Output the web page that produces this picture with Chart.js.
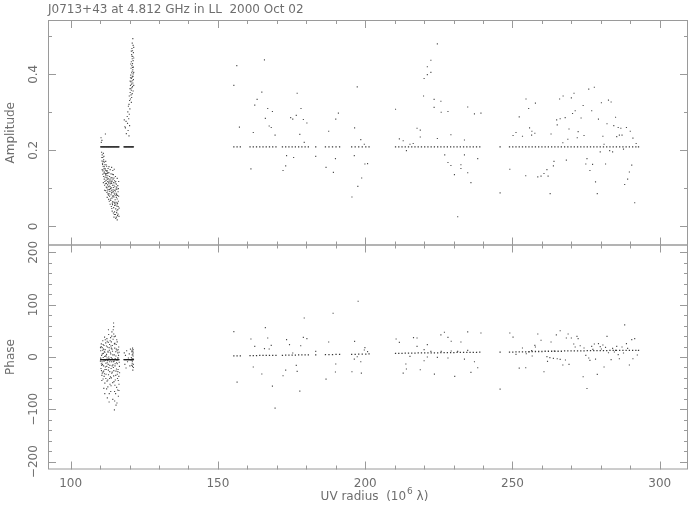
<!DOCTYPE html>
<html>
<head>
<meta charset="utf-8">
<script src="https://cdn.jsdelivr.net/npm/chart.js@4.4.1/dist/chart.umd.min.js"></script>
<style>
  html, body { margin: 0; padding: 0; background: #fff; }
  #wrap { position: relative; width: 693px; height: 511px; }
  #wrap canvas { position: absolute; left: 0; top: 0; }
</style>
</head>
<body>
<div id="wrap">
  <canvas id="ampChart" width="693" height="511"></canvas>
  <canvas id="phaseChart" width="693" height="511"></canvas>
</div>
<script>
// UV radius (10^6 lambda) axis
const xMin = 92.3, xMax = 309.6;
const xMajor = [100, 150, 200, 250, 300];
const xMinor = [110, 120, 130, 140, 160, 170, 180, 190, 210, 220, 230, 240, 260, 270, 280, 290];
const ampMajor = [0, 0.2, 0.4];
const ampMinor = [0.1, 0.3, 0.5];
const ampLabels = ['0', '0.2', '0.4'];
const phaseMajor = [-200, -100, 0, 100, 200];
const phaseMinor = [-180, -160, -140, -120, -80, -60, -40, -20, 20, 40, 60, 80, 120, 140, 160, 180];
const phaseLabels = ['\u2212200', '\u2212100', '0', '100', '200'];

// amplitude, dense group 110-117
const ampCluster1 = [
  [110.3, 0.233], [110.4, 0.221], [110.6, 0.226], [111.8, 0.243],
  [110.5, 0.195], [110.7, 0.188], [110.9, 0.181], [111.1, 0.192], [110.6, 0.172], [110.8, 0.166],
  [111.2, 0.175], [111.4, 0.169], [111.0, 0.158], [111.3, 0.151], [111.6, 0.162], [111.9, 0.171],
  [112.2, 0.158], [111.5, 0.143], [111.8, 0.148], [112.1, 0.139], [112.4, 0.146], [112.7, 0.152],
  [113.0, 0.141], [113.4, 0.149], [113.9, 0.155], [114.3, 0.147], [114.8, 0.150], [110.7, 0.149],
  [110.9, 0.137], [111.2, 0.131], [111.4, 0.124], [111.7, 0.129], [112.0, 0.121], [112.3, 0.128],
  [112.6, 0.133], [112.9, 0.125], [113.2, 0.131], [113.6, 0.122], [114.0, 0.128], [114.5, 0.136],
  [115.2, 0.131], [115.8, 0.126], [111.1, 0.115], [111.5, 0.108], [111.8, 0.112], [112.1, 0.103],
  [112.5, 0.109], [112.8, 0.116], [113.1, 0.106], [113.5, 0.112], [113.8, 0.101], [114.2, 0.108],
  [114.6, 0.115], [115.0, 0.104], [115.5, 0.111], [116.0, 0.107], [116.3, 0.118], [111.9, 0.094],
  [112.3, 0.089], [112.7, 0.097], [113.0, 0.086], [113.3, 0.092], [113.7, 0.083], [114.1, 0.090],
  [114.4, 0.096], [114.8, 0.087], [115.2, 0.093], [115.6, 0.084], [116.1, 0.091], [112.4, 0.076],
  [112.9, 0.071], [113.2, 0.079], [113.6, 0.068], [114.0, 0.074], [114.3, 0.065], [114.7, 0.077],
  [115.1, 0.070], [115.4, 0.063], [115.8, 0.072], [116.2, 0.066], [113.4, 0.058], [113.8, 0.052],
  [114.2, 0.057], [114.6, 0.049], [114.9, 0.055], [115.3, 0.046], [115.7, 0.053], [116.0, 0.044],
  [114.1, 0.040], [114.5, 0.035], [114.9, 0.038], [115.2, 0.031], [115.6, 0.036], [115.9, 0.028],
  [114.7, 0.024], [115.3, 0.021], [115.8, 0.017], [116.4, 0.026], [111.3, 0.140], [112.0, 0.133],
  [112.6, 0.118], [113.3, 0.117], [113.9, 0.113], [114.5, 0.102], [112.2, 0.146], [113.7, 0.138],
  [114.9, 0.120], [115.4, 0.098], [115.9, 0.081], [113.5, 0.099], [112.8, 0.104], [114.4, 0.081],
  [115.0, 0.060], [115.5, 0.076], [111.6, 0.118], [112.5, 0.140], [113.1, 0.122], [114.7, 0.127],
  [115.3, 0.118], [113.9, 0.095], [112.6, 0.085], [115.7, 0.098], [114.2, 0.137], [113.0, 0.157],
  [110.83, 0.163], [111.37, 0.157], [111.92, 0.136], [112.46, 0.124], [112.97, 0.112], [113.41, 0.104],
  [113.86, 0.088], [114.33, 0.078], [114.78, 0.063], [115.24, 0.056], [115.69, 0.041], [116.13, 0.052],
  [110.58, 0.181], [111.03, 0.171], [111.68, 0.152], [112.14, 0.113], [112.71, 0.141], [113.18, 0.097],
  [113.62, 0.127], [114.07, 0.119], [114.52, 0.091], [114.96, 0.083], [115.43, 0.087], [115.91, 0.061],
  [116.28, 0.079], [111.27, 0.184], [111.74, 0.139], [112.33, 0.101], [112.88, 0.082], [113.53, 0.072],
  [114.14, 0.061], [114.69, 0.108], [115.12, 0.114], [115.61, 0.103], [116.07, 0.032], [112.03, 0.162],
  [112.58, 0.093], [113.12, 0.066], [113.77, 0.117], [114.38, 0.124], [114.91, 0.095], [115.37, 0.081],
  [115.79, 0.059], [116.21, 0.099], [110.96, 0.146], [111.49, 0.095], [113.96, 0.047], [114.84, 0.031],
  [115.51, 0.024], [116.44, 0.048]
];

// amplitude, dense group 118-122
const ampCluster2 = [
  [121.1, 0.494], [120.9, 0.482], [121.2, 0.476], [120.8, 0.468], [121.0, 0.462], [121.3, 0.457],
  [120.7, 0.452], [121.1, 0.447], [120.9, 0.441], [121.2, 0.436], [120.6, 0.433], [121.0, 0.428],
  [120.8, 0.423], [121.3, 0.419], [120.5, 0.416], [121.1, 0.412], [120.9, 0.408], [120.7, 0.404],
  [121.2, 0.401], [120.4, 0.398], [121.0, 0.395], [120.8, 0.392], [120.6, 0.389], [121.3, 0.386],
  [120.9, 0.383], [120.5, 0.380], [121.1, 0.377], [120.7, 0.374], [120.3, 0.371], [121.0, 0.368],
  [120.8, 0.365], [120.4, 0.362], [120.6, 0.358], [121.2, 0.356], [120.2, 0.352], [120.9, 0.349],
  [120.5, 0.346], [119.9, 0.343], [120.7, 0.339], [120.3, 0.335], [120.0, 0.331], [120.6, 0.326],
  [119.8, 0.321], [121.4, 0.471], [120.6, 0.461], [121.4, 0.443], [120.4, 0.427], [121.4, 0.405],
  [120.3, 0.391], [121.4, 0.371], [120.2, 0.382], [120.1, 0.362], [119.6, 0.316], [120.1, 0.309],
  [119.4, 0.301], [119.9, 0.295], [119.2, 0.289], [119.7, 0.283], [118.8, 0.276], [119.3, 0.271],
  [120.0, 0.265], [118.6, 0.259], [119.5, 0.252], [118.9, 0.244], [119.8, 0.238], [118.4, 0.262],
  [118.2, 0.280], [121.0, 0.418], [120.8, 0.448], [121.2, 0.395]
];

// amplitude, sparse points 155-293
const ampOuter = [
  [156.4, 0.423], [155.4, 0.371], [157.3, 0.261], [161.2, 0.151], [162.0, 0.247], [162.5, 0.319],
  [163.3, 0.334], [164.9, 0.353], [165.8, 0.438], [166.1, 0.284], [166.9, 0.310], [168.5, 0.302],
  [167.4, 0.264], [168.1, 0.260], [169.4, 0.240], [172.1, 0.147], [173.0, 0.159], [173.3, 0.186],
  [175.7, 0.181], [174.7, 0.286], [175.4, 0.282], [176.6, 0.292], [176.9, 0.350], [178.2, 0.310],
  [177.8, 0.242], [179.0, 0.281], [179.3, 0.221], [180.2, 0.272], [183.2, 0.184], [186.7, 0.155],
  [187.6, 0.250], [189.2, 0.142], [189.9, 0.178], [190.0, 0.282], [190.9, 0.298], [196.3, 0.186],
  [196.4, 0.259], [197.3, 0.367], [198.5, 0.228], [199.7, 0.216], [199.9, 0.164], [200.8, 0.165],
  [198.8, 0.127], [197.5, 0.105], [195.5, 0.077], [210.3, 0.308], [211.6, 0.230], [212.9, 0.225],
  [214.0, 0.199], [215.2, 0.216], [216.3, 0.218], [217.6, 0.258], [218.7, 0.253], [218.7, 0.235],
  [219.8, 0.343], [220.0, 0.389], [221.1, 0.420], [221.1, 0.399], [222.3, 0.437], [222.3, 0.405],
  [224.5, 0.480], [223.4, 0.334], [223.4, 0.313], [225.7, 0.329], [225.8, 0.300], [228.1, 0.302],
  [224.5, 0.231], [227.0, 0.188], [228.1, 0.168], [229.1, 0.241], [229.1, 0.160], [230.3, 0.136],
  [231.4, 0.025], [232.5, 0.162], [232.5, 0.152], [233.7, 0.227], [233.7, 0.188], [234.8, 0.314],
  [234.8, 0.141], [235.9, 0.115], [237.1, 0.296], [238.2, 0.178], [239.3, 0.298], [245.8, 0.088],
  [249.1, 0.150], [250.2, 0.239], [251.2, 0.247], [252.3, 0.288], [253.4, 0.237], [254.5, 0.133],
  [254.6, 0.335], [255.5, 0.310], [255.8, 0.259], [256.6, 0.250], [256.5, 0.240], [257.6, 0.245],
  [257.8, 0.324], [258.6, 0.130], [259.7, 0.132], [260.7, 0.139], [261.7, 0.149], [262.1, 0.132],
  [262.8, 0.086], [263.1, 0.243], [263.9, 0.159], [264.1, 0.171], [265.0, 0.280], [265.2, 0.267],
  [266.2, 0.283], [266.0, 0.335], [267.1, 0.220], [267.2, 0.343], [267.9, 0.286], [268.3, 0.174],
  [268.8, 0.229], [269.2, 0.256], [270.0, 0.338], [270.4, 0.297], [270.9, 0.350], [271.3, 0.304],
  [272.0, 0.233], [272.3, 0.249], [273.3, 0.285], [274.0, 0.318], [274.3, 0.239], [274.9, 0.164],
  [275.3, 0.178], [275.9, 0.361], [276.3, 0.147], [276.9, 0.304], [277.2, 0.163], [277.8, 0.366],
  [278.2, 0.117], [278.8, 0.086], [279.2, 0.282], [279.8, 0.196], [280.2, 0.325], [280.7, 0.237],
  [281.1, 0.216], [281.6, 0.164], [282.1, 0.270], [282.6, 0.332], [283.0, 0.199], [283.5, 0.327],
  [284.0, 0.196], [284.4, 0.265], [285.0, 0.287], [285.4, 0.236], [285.9, 0.260], [286.3, 0.240],
  [286.8, 0.258], [287.2, 0.240], [287.7, 0.203], [288.1, 0.110], [288.7, 0.260], [289.1, 0.124],
  [289.7, 0.143], [290.0, 0.250], [290.5, 0.161], [290.9, 0.232], [291.5, 0.062], [292.0, 0.218]
];

// phase (degrees), dense group 110-117
const phaseCluster1 = [
  [110.1, -8], [110.2, 12], [110.3, -22], [110.4, 25], [110.5, 3], [110.6, -35], [110.7, 18],
  [110.8, -14], [110.9, 31], [111.0, -42], [111.1, 7], [111.2, -27], [111.3, 22], [111.4, -5],
  [111.5, 38], [111.6, -50], [111.7, 14], [111.8, -19], [111.9, 27], [112.0, -33], [112.1, 2],
  [112.2, -61], [112.3, 35], [112.4, -11], [112.5, 19], [112.6, -44], [112.7, 9], [112.8, -25],
  [112.9, 43], [113.0, -3], [113.1, -70], [113.2, 24], [113.3, -16], [113.4, 31], [113.5, -38],
  [113.6, 6], [113.7, -55], [113.8, 17], [113.9, -9], [114.0, 48], [114.1, -29], [114.2, 11],
  [114.3, -81], [114.4, 34], [114.5, -20], [114.6, 58], [114.7, -47], [114.8, 4], [114.9, -66],
  [115.0, 26], [115.1, -13], [115.2, 40], [115.3, -35], [115.4, -92], [115.5, 15], [115.6, -58],
  [115.7, -6], [115.8, 29], [115.9, -41], [116.0, 8], [116.1, -24], [116.2, -75], [116.3, 19],
  [116.4, -52], [116.5, -10], [116.6, -30], [110.15, -2], [110.35, 20], [110.55, -16], [110.75, 6],
  [110.95, -29], [111.15, 15], [111.35, -37], [111.55, 1], [111.75, 33], [111.95, -12], [112.15, 21],
  [112.35, -46], [112.55, -7], [112.75, 28], [112.95, -20], [113.15, 13], [113.35, -52], [113.55, 37],
  [113.75, -1], [113.95, -31], [114.15, 22], [114.35, -15], [114.55, 65], [114.75, -8], [114.95, 17],
  [115.15, -44], [115.35, 2], [115.55, -23], [115.75, 12], [115.95, -63], [116.15, -2], [116.35, -37],
  [114.45, 52], [114.85, -101], [113.05, -86], [112.45, -78], [111.25, -60], [115.25, -70],
  [110.25, -4], [110.65, -9], [111.05, -1], [111.45, 10], [111.85, -6], [112.25, -18], [112.65, 11],
  [113.25, -9], [113.65, 21], [114.05, -3], [114.65, -26], [115.05, -17], [115.45, 24], [115.85, -13],
  [116.25, 3], [116.55, -18], [113.85, -40], [112.85, -34], [111.65, -24], [110.45, -26],
  [110.13, 18], [110.42, -13], [110.71, -31], [111.02, 24], [111.33, -8], [111.62, 9], [111.94, -41],
  [112.18, 5], [112.41, 30], [112.73, -14], [113.04, 18], [113.27, -28], [113.52, -5], [113.81, 29],
  [114.08, -17], [114.32, 4], [114.59, -36], [114.86, 25], [115.11, -3], [115.38, -27], [115.63, 33],
  [115.92, -2], [116.17, -45], [116.46, 9], [110.58, -45], [110.87, 13], [111.18, -17], [111.47, -32],
  [111.79, 2], [112.07, -24], [112.36, -2], [112.62, -57], [112.91, 0], [113.22, -41], [113.47, 9],
  [113.73, -22], [114.02, 15], [114.27, -49], [114.51, -9], [114.78, 39], [115.02, -54], [115.29, 10],
  [115.58, -11], [115.83, -33], [116.09, 14], [116.38, -64], [111.58, -70], [112.83, 52], [113.6, -66],
  [114.93, -84], [115.71, -88], [114.62, 44], [113.93, 40], [116.02, -28]
];

// phase, dense group 118-122
const phaseCluster2 = [
  [118.2, 8], [118.4, -14], [118.6, 3], [118.8, -21], [119.0, 12], [119.3, -9], [119.6, -2],
  [119.9, 6], [120.1, -17], [120.3, 15], [120.5, -6], [120.7, 10], [120.9, -12], [121.0, 17],
  [121.1, -25], [121.2, 2], [121.3, -4], [120.8, 13], [121.0, -18], [120.6, -1], [121.2, 9], [120.9, 4],
  [120.95, -8], [121.15, 6], [121.25, -14], [120.85, -3], [121.05, 11], [121.3, -20], [120.75, -16], [121.18, 14]
];

// phase, sparse points 155-293
const phaseOuter = [
  [155.4, 48.5], [156.5, -47.9], [161.2, 34.4], [162.0, -19.1], [162.5, 20.4], [164.9, -32.5],
  [165.8, 15.9], [166.1, 56.1], [166.9, 36.3], [167.4, 15.3], [168.1, 22.3], [168.5, -55.6],
  [169.4, -97.8], [172.1, -35.8], [173.0, -25.0], [173.3, 33.2], [174.3, 23.6], [175.4, 7.6],
  [176.6, -16.0], [176.9, -27.5], [177.8, -65.2], [178.1, 21.6], [179.0, 37.6], [179.3, 74.6],
  [180.2, 35.0], [183.2, 10.8], [186.7, -42.2], [187.6, 28.6], [189.1, 83.6], [190.0, -13.4],
  [189.9, -28.7], [195.5, -28.1], [196.3, -4.0], [196.4, 29.9], [197.6, 106.6], [197.3, 0.5],
  [198.5, -9.1], [198.7, -30.8], [199.7, 13.3], [199.9, 17.8], [200.8, 10.2], [210.5, 34.4],
  [211.6, 28.0], [212.9, -30.8], [213.8, -13.4], [214.0, -23.0], [215.2, 1.2], [216.4, 37.0],
  [217.6, 36.3], [217.6, 20.4], [218.7, -24.3], [220.0, 14.0], [220.0, -7.1], [221.1, 23.6],
  [221.1, 0.0], [222.3, 10.8], [223.5, -32.7], [224.5, -0.6], [225.7, 42.3], [225.8, 10.8],
  [226.9, 47.4], [228.1, 37.6], [228.1, -1.9], [229.2, 30.0], [229.2, 11.5], [230.4, -37.1],
  [231.4, 10.8], [232.5, 28.6], [233.7, -4.0], [234.8, 47.9], [234.8, 12.7], [235.9, -29.4],
  [237.1, -9.1], [238.2, -20.5], [239.3, 45.9], [245.8, -61.4], [249.1, 45.9], [250.2, 38.0],
  [251.2, 4.9], [252.3, -21.2], [253.4, 17.2], [254.5, -20.5], [254.7, 6.3], [255.6, 10.2],
  [256.5, 12.1], [256.7, 1.9], [257.6, 22.3], [257.8, 19.0], [258.6, 44.0], [259.7, 31.9],
  [260.7, -28.1], [261.7, 0.6], [261.9, -8.4], [262.7, -1.3], [263.1, 28.6], [263.9, -2.6],
  [264.2, 11.5], [264.9, 42.2], [265.2, -3.3], [266.2, 50.1], [266.2, -4.5], [267.1, -15.4],
  [268.0, -5.8], [268.3, 36.3], [268.9, 44.0], [269.2, -14.1], [270.0, 36.3], [270.8, 24.8],
  [271.3, 19.0], [271.9, 39.5], [272.3, 35.0], [273.0, 21.6], [274.0, -37.7], [274.3, 17.2],
  [274.9, 3.2], [275.3, -60.2], [275.9, -1.9], [276.3, -6.4], [276.9, 20.4], [277.3, 14.6],
  [277.8, 24.8], [278.2, -4.0], [278.8, -33.3], [279.2, 25.5], [279.8, 19.8], [280.2, 15.3],
  [280.7, 23.0], [281.1, -19.2], [281.6, 18.3], [282.1, 39.5], [282.6, 8.2], [283.5, -5.1],
  [284.0, 16.6], [284.6, 9.5], [285.0, 12.7], [285.4, 20.4], [285.9, 4.5], [286.3, -3.3],
  [287.2, 19.0], [287.7, 7.6], [288.1, 61.3], [288.7, 25.5], [289.1, 16.6], [289.7, -15.4],
  [290.5, 33.2], [290.9, -3.3], [291.5, 35.0], [292.4, 3.9]
];

// model points: uv radius, amplitude, phase
const modelU = [
  110.2, 110.4, 110.6, 110.8, 111.0, 111.2, 111.4, 111.6, 111.8, 112.0, 112.2, 112.4, 112.6, 112.8, 113.0, 113.2,
  113.4, 113.6, 113.8, 114.0, 114.2, 114.4, 114.6, 114.8, 115.0, 115.2, 115.4, 115.6, 115.8, 116.0, 116.2, 116.4,
  118.1, 118.3, 118.5, 118.7, 118.9, 119.1, 119.3, 119.5, 119.7, 119.9, 120.1, 120.3, 120.5, 120.7, 120.9, 121.1, 121.3,
  155.4, 156.5, 157.6, 160.9, 162.0, 163.1, 164.2, 165.3, 166.4, 167.5, 168.6, 169.7,
  171.9, 173.0, 174.1, 175.2, 176.3, 177.4, 178.5, 179.6, 180.7, 183.2, 186.5, 187.7, 188.9, 190.1, 191.3,
  195.4, 196.6, 197.8, 199.0, 200.2, 201.3, 210.3, 211.4, 212.5, 213.6, 214.7, 215.8, 216.9, 218.0, 219.1, 220.2,
  221.3, 222.4, 223.5, 224.6, 225.7, 226.8, 227.9, 229.0, 230.1, 231.2, 232.3, 233.4, 234.5, 235.6, 236.7, 237.8, 238.9, 245.8,
  249.0, 250.1, 251.2, 252.3, 253.4, 254.5, 255.6, 256.7, 257.8, 258.9, 260.0, 261.1, 262.2, 263.3, 264.4, 265.5, 266.6, 267.7, 268.8, 269.9, 271.0,
  272.1, 273.2, 274.3, 275.4, 276.5, 277.6, 278.7, 279.8, 280.9, 282.0, 283.1, 284.2, 285.3, 286.4, 287.5, 288.6, 289.7, 290.8, 291.9, 292.8
];
const modelAmp = [
  0.209, 0.209, 0.209, 0.209, 0.209, 0.209, 0.209, 0.209, 0.209, 0.209, 0.209, 0.209, 0.209, 0.209, 0.209, 0.209,
  0.209, 0.209, 0.209, 0.209, 0.209, 0.209, 0.209, 0.209, 0.209, 0.209, 0.209, 0.209, 0.209, 0.209, 0.209, 0.209,
  0.209, 0.209, 0.209, 0.209, 0.209, 0.209, 0.209, 0.209, 0.209, 0.209, 0.209, 0.209, 0.209, 0.209, 0.209, 0.209, 0.209,
  0.209, 0.209, 0.209, 0.209, 0.209, 0.209, 0.209, 0.209, 0.209, 0.209, 0.209, 0.209,
  0.209, 0.209, 0.209, 0.209, 0.209, 0.209, 0.209, 0.209, 0.209, 0.209, 0.209, 0.209, 0.209, 0.209, 0.209,
  0.209, 0.209, 0.209, 0.209, 0.209, 0.209, 0.209, 0.209, 0.209, 0.209, 0.209, 0.209, 0.209, 0.209, 0.209, 0.209,
  0.209, 0.209, 0.209, 0.209, 0.209, 0.209, 0.209, 0.209, 0.209, 0.209, 0.209, 0.209, 0.209, 0.209, 0.209, 0.209, 0.209, 0.209,
  0.209, 0.209, 0.209, 0.209, 0.209, 0.209, 0.209, 0.209, 0.209, 0.209, 0.209, 0.209, 0.209, 0.209, 0.209, 0.209, 0.209, 0.209, 0.209, 0.209, 0.209,
  0.209, 0.209, 0.209, 0.209, 0.209, 0.209, 0.209, 0.209, 0.209, 0.209, 0.209, 0.209, 0.209, 0.209, 0.209, 0.209, 0.209, 0.209, 0.209, 0.209
];
const modelPhase = [
  -5, -5, -5, -5, -5, -5, -5, -5, -5, -5, -5, -5, -5, -5, -5, -5,
  -5, -5, -5, -5, -5, -5, -5, -5, -5, -5, -5, -5, -5, -5, -5, -5,
  -5, -5, -5, -5, -5, -5, -5, -5, -5, -5, -5, -5, -5, -5, -5, -5, -5,
  2, 2, 2, 2.5, 2.5, 2.5, 3, 3, 3, 3, 3, 3,
  3, 3.5, 3.5, 3.5, 3.5, 4, 4, 4, 4, 4, 4.5, 4.5, 4.5, 5, 5,
  5, 5, 5.5, 5.5, 5.5, 6, 7, 7, 7, 7.5, 7.5, 7.5, 7.5, 8, 8, 8,
  8, 8, 8, 8, 8.5, 8.5, 8.5, 8.5, 8.5, 9, 9, 9, 9, 9, 9, 9, 9.5, 9.5,
  9.5, 9.5, 10, 10, 10, 10, 10, 10.5, 10.5, 10.5, 10.5, 11, 11, 11, 11, 11, 11, 11.5, 11.5, 11.5, 11.5,
  11.5, 11.5, 11.5, 12, 12, 12, 12, 12, 12, 12, 12.5, 12.5, 12.5, 12.5, 12.5, 12.5, 12.5, 12.5, 12.5, 12.5
];

const titleText = 'J0713+43 at 4.812 GHz in LL  2000 Oct 02';
const frameColor = '#9a9a9a';
const textColor = '#6e6e6e';
const font = '12px "DejaVu Sans", sans-serif';

const toXY = pts => pts.map(p => ({ x: p[0], y: p[1] }));
const pair = (xs, ys) => xs.map((x, i) => ({ x: x, y: ys[i] }));

function line(ctx, x1, y1, x2, y2) {
  ctx.beginPath();
  ctx.moveTo(x1, y1);
  ctx.lineTo(x2, y2);
  ctx.stroke();
}

// PGPLOT-like box: frame, inward ticks on all sides, rotated y labels
const framePlugin = {
  id: 'frame',
  afterDraw(chart, args, opts) {
    const { ctx, chartArea: a } = chart;
    const xs = chart.scales.x, ys = chart.scales.y;
    ctx.save();
    ctx.strokeStyle = frameColor;
    ctx.lineWidth = 1;
    ctx.strokeRect(a.left + 0.5, a.top + 0.5, a.right - a.left - 1, a.bottom - a.top - 1);

    const xt = (v, len) => {
      const px = Math.round(xs.getPixelForValue(v)) + 0.5;
      line(ctx, px, a.top, px, a.top + len);
      line(ctx, px, a.bottom, px, a.bottom - len);
    };
    const yt = (v, len) => {
      const py = Math.round(ys.getPixelForValue(v)) + 0.5;
      line(ctx, a.left, py, a.left + len, py);
      line(ctx, a.right, py, a.right - len, py);
    };
    xMajor.forEach(v => xt(v, 8));
    xMinor.forEach(v => xt(v, 4));
    opts.yMajor.forEach(v => yt(v, 8));
    opts.yMinor.forEach(v => yt(v, 4));

    ctx.fillStyle = textColor;
    ctx.font = font;
    // y tick labels, rotated
    opts.yMajor.forEach((v, i) => {
      const py = ys.getPixelForValue(v);
      ctx.save();
      ctx.translate(34, py);
      ctx.rotate(-Math.PI / 2);
      ctx.textAlign = 'center';
      ctx.textBaseline = 'middle';
      ctx.fillText(opts.yLabels[i], 0, 0);
      ctx.restore();
    });
    // y title
    ctx.save();
    ctx.translate(11, (a.top + a.bottom) / 2);
    ctx.rotate(-Math.PI / 2);
    ctx.textAlign = 'center';
    ctx.textBaseline = 'middle';
    ctx.fillText(opts.yTitle, 0, 0);
    ctx.restore();

    if (opts.xLabels) {
      ctx.textAlign = 'center';
      ctx.textBaseline = 'top';
      xMajor.forEach(v => ctx.fillText(String(v), xs.getPixelForValue(v), a.bottom + 8));
      // UV radius  (10^6 λ)
      const p1 = 'UV radius  (10', p2 = '6', p3 = ' \u03bb)';
      ctx.font = font;
      const w1 = ctx.measureText(p1).width, w3 = ctx.measureText(p3).width;
      ctx.font = '9px "DejaVu Sans", sans-serif';
      const w2 = ctx.measureText(p2).width;
      let x0 = (a.left + a.right) / 2 + 6 - (w1 + w2 + w3) / 2;
      const base = 500;
      ctx.textAlign = 'left';
      ctx.textBaseline = 'alphabetic';
      ctx.font = font;
      ctx.fillText(p1, x0, base);
      ctx.font = '9px "DejaVu Sans", sans-serif';
      ctx.fillText(p2, x0 + w1 + 1, base - 6);
      ctx.font = font;
      ctx.fillText(p3, x0 + w1 + w2 + 1, base);
    }
    if (opts.title) {
      ctx.textAlign = 'left';
      ctx.textBaseline = 'alphabetic';
      ctx.fillText(opts.title, 48, 13);
    }
    ctx.restore();
  }
};

const dotStyle = {
  showLine: false,
  pointStyle: 'rect',
  pointRadius: 0.8,
  pointBorderWidth: 0,
  pointBackgroundColor: 'rgba(30,30,30,0.8)',
  pointBorderColor: 'rgba(0,0,0,0)'
};
const modelStyle = Object.assign({}, dotStyle, { pointRadius: 0.9, pointBackgroundColor: 'rgba(20,20,20,0.85)' });

function panel(id, datasets, yMin, yMax, padding, frameOpts) {
  return new Chart(document.getElementById(id), {
    type: 'scatter',
    data: { datasets: datasets },
    options: {
      responsive: false,
      animation: false,
      events: [],
      layout: { padding: padding },
      scales: {
        x: { type: 'linear', min: xMin, max: xMax, display: false },
        y: { type: 'linear', min: yMin, max: yMax, display: false }
      },
      plugins: {
        legend: { display: false },
        tooltip: { enabled: false },
        frame: frameOpts
      }
    },
    plugins: [framePlugin]
  });
}

panel('ampChart', [
  Object.assign({ data: toXY(ampCluster1) }, dotStyle),
  Object.assign({ data: toXY(ampCluster2) }, dotStyle),
  Object.assign({ data: toXY(ampOuter) }, dotStyle),
  Object.assign({ data: pair(modelU, modelAmp) }, modelStyle)
], -0.0505, 0.5429, { left: 48, right: 5, top: 20, bottom: 265.5 },
  { yMajor: ampMajor, yMinor: ampMinor, yLabels: ampLabels, yTitle: 'Amplitude', title: titleText });

panel('phaseChart', [
  Object.assign({ data: toXY(phaseCluster1) }, dotStyle),
  Object.assign({ data: toXY(phaseCluster2) }, dotStyle),
  Object.assign({ data: toXY(phaseOuter) }, dotStyle),
  Object.assign({ data: pair(modelU, modelPhase) }, modelStyle)
], -215, 215, { left: 48, right: 5, top: 244.5, bottom: 41.5 },
  { yMajor: phaseMajor, yMinor: phaseMinor, yLabels: phaseLabels, yTitle: 'Phase', xLabels: true });
</script>
</body>
</html>
